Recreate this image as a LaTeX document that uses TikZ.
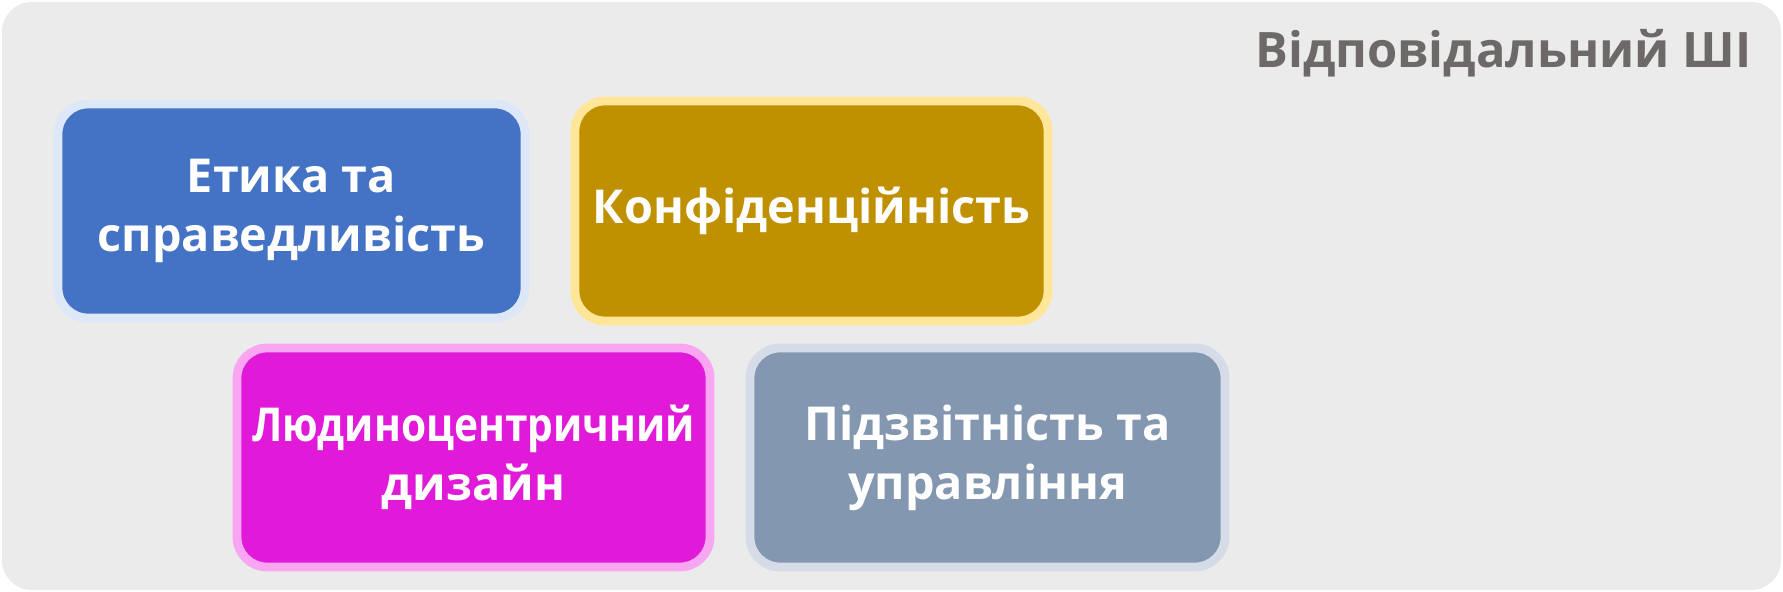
\documentclass[tikz,border=0pt]{standalone}
\usepackage{fontspec}
\usepackage{graphicx}
\setmainfont{Open Sans}
\usetikzlibrary{positioning}
\definecolor{panelc}{HTML}{EBEBEB}
\definecolor{titlec}{HTML}{6E6969}
\definecolor{ethicsc}{HTML}{4472C4}
\definecolor{ethicsh}{HTML}{DCE8F7}
\definecolor{privacyc}{HTML}{BF9000}
\definecolor{privacyh}{HTML}{FFE699}
\definecolor{humanc}{HTML}{E01AD8}
\definecolor{humanh}{HTML}{F8A6F2}
\definecolor{governc}{HTML}{8497B0}
\definecolor{governh}{HTML}{D5DCE8}

\tikzset{
  pillar/.style={rounded corners=0.3cm, line width=2.5pt, outer sep=0pt, inner sep=0pt,
    align=center, text=white, minimum height=2.19cm,
    font=\bfseries\fontsize{13.3}{16.8}\selectfont},
}

\begin{document}
\begin{tikzpicture}[scale=1.0]
\fill[white] (0,0) rectangle (17.83,-5.92);
\fill[panelc, rounded corners=0.3cm] (0.02,-0.02) rectangle (17.81,-5.90);

\node[anchor=base east, text=titlec, font=\bfseries\fontsize{13.9}{16}\selectfont] (title) at (17.64,-0.68) {Відповідальний ШІ};

\node[pillar, fill=ethicsc, draw=ethicsh, minimum width=4.67cm, minimum height=2.14cm] (ethics) at (2.915,-2.11) {Етика та\\справедливість};
\node[pillar, fill=privacyc, draw=privacyh, minimum width=4.73cm, minimum height=2.20cm, right=0.5cm of ethics] (privacy) {Конфіденційність};
\node[pillar, fill=humanc, draw=humanh, minimum width=4.73cm] (human) at (4.735,-4.575) {\scalebox{0.87}[1]{Людиноцентричний}\\дизайн};
\node[pillar, fill=governc, draw=governh, minimum width=4.75cm, right=0.4cm of human] (govern) {Підзвітність та\\управління};
\end{tikzpicture}
\end{document}
